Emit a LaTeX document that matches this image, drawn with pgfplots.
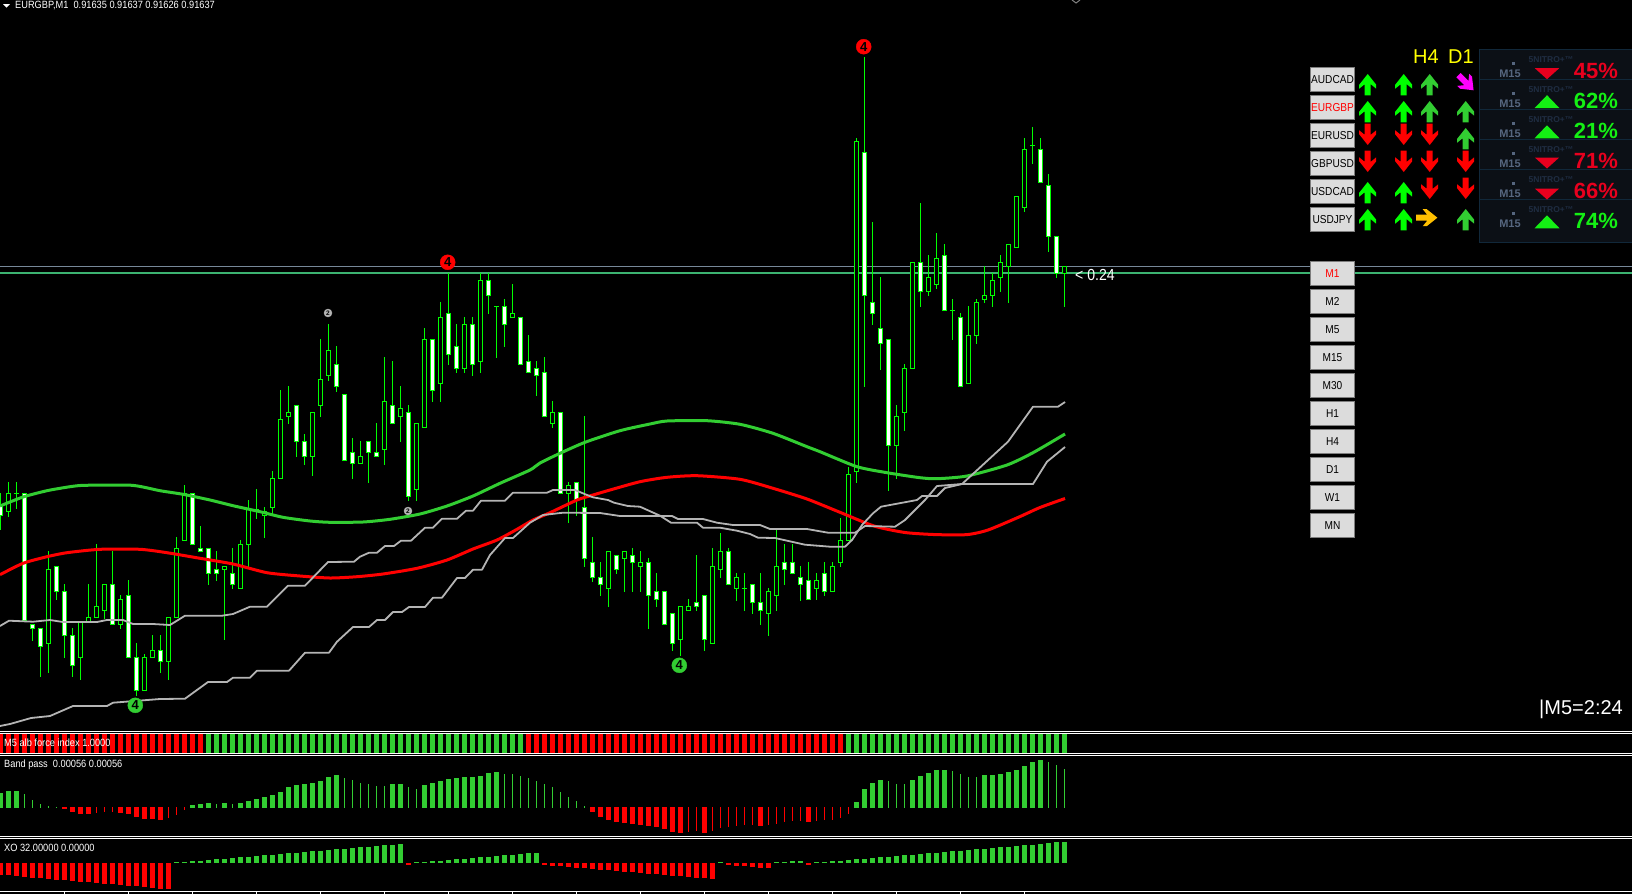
\documentclass[border=0pt]{standalone}
\usepackage{fontspec}
\setmainfont{Liberation Sans}
\newfontfamily\mt[FakeStretch=0.88]{Liberation Sans}
\usepackage{pgfplots}
\usepackage{pgfplotstable}
\pgfplotsset{compat=1.18}
\newcommand\fs[1]{\fontsize{#1}{#1}\selectfont}

\definecolor{candle}{HTML}{00FF00}
\definecolor{ma}{HTML}{32CD32}
\definecolor{band}{HTML}{B4B4B4}
\definecolor{hgreen}{HTML}{3CB371}
\definecolor{hgrey}{HTML}{778899}
\definecolor{btn}{HTML}{DCDCDC}
\definecolor{btnb}{HTML}{7E7E7E}
\definecolor{panel}{HTML}{0C1016}
\definecolor{panelb}{HTML}{11283A}
\definecolor{nitro}{HTML}{1F2D42}
\definecolor{mlabel}{HTML}{56667F}
\definecolor{pctred}{HTML}{E8001E}
\definecolor{pctgreen}{HTML}{14F014}
\definecolor{gold}{HTML}{FFC000}
\definecolor{mag}{HTML}{FF00FF}
\definecolor{yel}{HTML}{FFFF00}

% arrows of the dashboard
\pgfdeclareplotmark{upa}{%
  \pgfpathmoveto{\pgfpoint{0pt}{10.7pt}}
  \pgfpathlineto{\pgfpoint{8.5pt}{0pt}}
  \pgfpathlineto{\pgfpoint{8.5pt}{-4pt}}
  \pgfpathlineto{\pgfpoint{3pt}{0.5pt}}
  \pgfpathlineto{\pgfpoint{3pt}{-10.7pt}}
  \pgfpathlineto{\pgfpoint{-3pt}{-10.7pt}}
  \pgfpathlineto{\pgfpoint{-3pt}{0.5pt}}
  \pgfpathlineto{\pgfpoint{-8.5pt}{-4pt}}
  \pgfpathlineto{\pgfpoint{-8.5pt}{0pt}}
  \pgfpathclose\pgfusepathqfill}
\pgfdeclareplotmark{downa}{\pgftransformrotate{180}\pgfuseplotmark{upa}}
\pgfdeclareplotmark{righta}{\pgftransformrotate{-90}\pgfuseplotmark{upa}}
\pgfdeclareplotmark{sea}{\pgftransformrotate{-135}\pgfuseplotmark{upa}}
\pgfdeclareplotmark{tridown}{%
  \pgfpathmoveto{\pgfpoint{-12.2pt}{5.5pt}}
  \pgfpathlineto{\pgfpoint{12.2pt}{5.5pt}}
  \pgfpathlineto{\pgfpoint{0pt}{-5.5pt}}
  \pgfpathclose\pgfusepathqfill}
\pgfdeclareplotmark{triup}{%
  \pgfpathmoveto{\pgfpoint{-12.5pt}{-6.5pt}}
  \pgfpathlineto{\pgfpoint{12.5pt}{-6.5pt}}
  \pgfpathlineto{\pgfpoint{0pt}{6.5pt}}
  \pgfpathclose\pgfusepathqfill}

% candles: k, body top, body bottom, high, low (pixel rows of the chart)
\pgfplotstableread{
k t b h l
0 505 515 493 529
3 493 620 493 620
4 624 628 624 640
5 628 646 628 676
7 566 591 566 599
8 591 635 584 657
9 635 665 628 676
14 584 624 551 624
16 595 657 580 657
17 657 690 643 695
20 650 661 635 672
24 493 544 493 544
25 548 551 526 551
26 548 573 548 584
27 569 573 551 580
29 573 584 548 588
37 405 441 405 456
38 441 456 434 464
42 364 386 346 391
43 394 460 394 460
44 452 463 438 478
46 441 452 441 482
47 452 456 423 456
49 405 423 361 423
51 412 496 405 500
54 339 390 339 401
56 313 354 273 364
57 346 368 324 372
59 324 364 317 375
61 280 295 273 313
63 306 324 299 346
65 317 364 317 364
66 361 372 335 372
67 368 375 361 395
68 372 416 357 416
70 412 493 412 493
72 482 500 482 515
73 507 558 416 566
74 562 577 537 581
75 577 584 562 595
77 555 569 555 573
79 555 562 548 591
81 562 595 558 628
82 591 599 573 606
83 591 624 591 624
84 613 643 613 650
87 602 606 555 610
88 595 639 595 650
91 551 584 548 584
94 584 602 584 613
95 602 610 573 624
98 562 569 544 584
99 562 573 544 573
100 577 584 566 600
101 580 599 562 599
103 573 591 562 595
108 152 295 57 386
109 302 313 222 324
110 328 343 277 369
111 339 445 339 490
115 262 291 203 306
118 255 310 244 310
120 317 386 313 386
130 149 182 138 182
131 185 236 174 251
132 236 273 236 277
}\bearcandles
\pgfplotstableread{
k t b h l
1 493 511 482 516
6 569 643 551 672
10 621 657 621 679
11 617 621 584 621
12 606 617 544 617
13 584 610 584 618
15 599 624 595 628
18 657 690 654 690
19 650 657 635 657
21 617 661 617 679
22 548 617 537 617
23 493 540 485 540
28 566 569 566 639
30 544 588 540 588
31 508 544 500 566
33 511 515 507 537
34 478 507 471 514
35 419 478 390 478
36 412 416 386 423
39 412 456 412 475
40 379 405 339 416
41 350 375 324 380
45 456 463 441 463
48 401 449 357 464
50 408 416 386 441
52 423 489 423 500
53 339 427 328 427
55 317 383 302 401
58 324 368 317 372
60 280 361 273 372
64 313 317 284 317
69 412 423 401 427
71 485 493 482 522
76 551 588 551 606
78 551 558 551 591
80 562 566 551 591
85 606 639 606 655
86 606 610 599 610
89 566 643 548 643
90 551 569 533 577
92 577 588 573 600
96 591 613 588 635
97 566 595 530 610
102 580 588 573 599
104 566 591 562 591
105 540 562 518 566
106 474 540 467 540
107 141 471 138 482
112 416 445 405 478
113 368 412 364 430
114 262 368 262 368
116 277 291 255 295
117 258 284 233 288
121 335 383 306 383
122 302 335 299 343
123 295 299 266 302
124 280 295 273 306
125 262 277 255 291
126 244 266 244 302
127 196 247 196 247
128 149 207 138 211
133 266 273 266 306
}\bullcandles
\pgfplotstableread{
k t b h l
2 493 493 482 508
32 509 509 489 518
62 306 306 306 357
93 588 588 573 610
119 310 310 299 339
129 145 145 127 163
}\dojicandles

% force index: k, top row
\pgfplotstableread[row sep=\\]{k v\\0 734\\1 734\\2 734\\3 734\\4 734\\5 734\\6 734\\7 734\\8 734\\9 734\\10 734\\11 734\\12 734\\13 734\\14 734\\15 734\\16 734\\17 734\\18 734\\19 734\\20 734\\21 734\\22 734\\23 734\\24 734\\25 734\\66 734\\67 734\\68 734\\69 734\\70 734\\71 734\\72 734\\73 734\\74 734\\75 734\\76 734\\77 734\\78 734\\79 734\\80 734\\81 734\\82 734\\83 734\\84 734\\85 734\\86 734\\87 734\\88 734\\89 734\\90 734\\91 734\\92 734\\93 734\\94 734\\95 734\\96 734\\97 734\\98 734\\99 734\\100 734\\101 734\\102 734\\103 734\\104 734\\105 734\\}\forcered
\pgfplotstableread[row sep=\\]{k v\\26 734\\27 734\\28 734\\29 734\\30 734\\31 734\\32 734\\33 734\\34 734\\35 734\\36 734\\37 734\\38 734\\39 734\\40 734\\41 734\\42 734\\43 734\\44 734\\45 734\\46 734\\47 734\\48 734\\49 734\\50 734\\51 734\\52 734\\53 734\\54 734\\55 734\\56 734\\57 734\\58 734\\59 734\\60 734\\61 734\\62 734\\63 734\\64 734\\65 734\\106 734\\107 734\\108 734\\109 734\\110 734\\111 734\\112 734\\113 734\\114 734\\115 734\\116 734\\117 734\\118 734\\119 734\\120 734\\121 734\\122 734\\123 734\\124 734\\125 734\\126 734\\127 734\\128 734\\129 734\\130 734\\131 734\\132 734\\133 734\\}\forcegreen

% band pass: k, end of the bar (row in the crop, 3 to the pixel)
\pgfplotstableread{
k z
0 205
1 198
2 198
24 240
25 237
26 234
28 234
30 234
31 228
32 222
33 216
34 210
35 201
36 186
37 180
38 177
39 174
40 168
41 156
42 150
49 177
50 177
53 180
54 174
55 168
56 162
57 159
58 156
59 156
60 153
61 144
62 141
107 231
108 192
109 174
110 165
114 165
115 153
116 144
117 135
118 135
123 150
124 150
125 147
126 141
127 135
128 123
129 111
130 105
}\bpwidegreen
\pgfplotstableread{
k z
3 207
4 225
5 237
6 243
7 245
27 237
29 237
43 159
44 165
45 174
46 177
47 183
48 183
51 186
52 192
63 147
64 147
65 153
66 159
67 168
68 177
69 186
70 201
71 216
72 228
73 243
111 168
112 177
113 177
119 138
120 147
121 156
122 156
131 111
132 120
133 132
}\bpthingreen
\pgfplotstableread{
k z
8 252
9 261
10 268
11 268
15 264
16 268
17 276
18 282
19 282
20 286
74 261
75 276
76 285
77 291
78 294
79 297
80 300
81 303
82 306
83 312
84 321
85 324
88 324
95 303
101 291
}\bpwidered
\pgfplotstableread{
k z
12 264
13 262
14 262
21 279
22 270
23 255
86 321
87 318
89 318
90 309
91 306
92 303
93 300
94 300
96 300
97 297
98 291
99 288
100 288
102 288
103 285
104 285
105 279
106 267
}\bpthinred

% XO
\pgfplotstableread{
k z
0 450
1 451
2 453
3 456
4 459
5 459
6 462
7 465
8 465
9 468
10 471
11 471
12 474
13 477
14 477
15 480
16 483
17 483
18 486
19 489
20 492
21 492
51 420
68 420
69 423
70 423
71 426
72 429
73 429
74 432
75 435
76 435
77 438
78 441
79 441
80 444
81 447
82 447
83 450
84 453
85 453
86 456
87 459
88 459
89 462
91 420
92 423
93 423
94 426
95 429
96 429
101 420
}\xored
\pgfplotstableread{
k z
22 411
23 411
24 408
25 408
26 405
27 402
28 402
29 399
30 396
31 396
32 393
33 390
34 390
35 387
36 384
37 384
38 381
39 378
40 378
41 375
42 372
43 372
44 369
45 366
46 366
47 363
48 360
49 360
50 357
52 411
53 411
54 408
55 408
56 405
57 402
58 402
59 399
60 396
61 396
62 393
63 390
64 390
65 387
66 384
67 384
90 411
97 411
98 411
99 408
100 408
102 411
103 411
104 408
105 408
106 405
107 402
108 402
109 399
110 396
111 396
112 393
113 390
114 390
115 387
116 384
117 384
118 381
119 378
120 378
121 375
122 372
123 372
124 369
125 366
126 366
127 363
128 360
129 360
130 357
131 354
132 351
133 351
}\xogreen

\pgfplotsset{
  bar/.style n args={2}{draw=none, no markers, forget plot, error bars/.cd, y dir=both, y explicit,
    error mark=none, error bar style={draw=#1, solid, line width=#2}},
}
\newcommand\candleset[1]{%
  \addplot[bar={candle}{1pt}] table[x expr=8*\thisrow{k}+0.5, y=h,
    y error plus expr=\thisrow{l}-\thisrow{h}+1, y error minus expr=0] {#1};
  \addplot[bar={candle}{5pt}] table[x expr=8*\thisrow{k}+0.5, y=t,
    y error plus expr=\thisrow{b}-\thisrow{t}+1, y error minus expr=0] {#1};
}
\newcommand\inner[2]{%
  \addplot[bar={#2}{3pt}] table[x expr=8*\thisrow{k}+0.5, y expr=\thisrow{t}+1,
    y error plus expr=\thisrow{b}-\thisrow{t}-1, y error minus expr=0] {#1};
}
% bar from a crop row z down or up to a base row
\newcommand\histup[4]{%
  \addplot[bar={#2}{#3}] table[x expr=8*\thisrow{k}+0.5, y expr=round(725+\thisrow{z}/3),
    y error plus expr=#4-round(725+\thisrow{z}/3), y error minus expr=0] {#1};
}
\newcommand\histdown[4]{%
  \addplot[bar={#2}{#3}] table[x expr=8*\thisrow{k}+0.5, y expr=#4,
    y error plus expr=round(725+\thisrow{z}/3)-#4, y error minus expr=0] {#1};
}
\newcommand\btn[3]{\node[draw=btnb, line width=1pt, fill=btn, minimum width=44.5pt, minimum height=24.5pt,
  inner sep=0pt, text=#3, font=\mt\fs{11.5}] at (axis cs:1332.5,#1) {#2};}

\begin{document}
\begin{tikzpicture}
\begin{axis}[
  scale only axis, width=1632pt, height=894pt,
  xmin=0, xmax=1632, ymin=0, ymax=894, y dir=reverse,
  axis line style={draw=none}, ticks=none,
  axis background/.style={fill=black},
  clip=true,
]
% horizontal levels
\addplot[hgrey, line width=1pt, forget plot] coordinates {(0,266.5) (1632,266.5)};
\addplot[hgreen, line width=2pt, forget plot] coordinates {(0,273) (1632,273)};

\candleset{\bearcandles}
\candleset{\bullcandles}
\candleset{\dojicandles}
\inner{\bearcandles}{white}
\inner{\bullcandles}{black}

% moving averages and bands
\addplot[ma, line width=3pt, line join=round, smooth, tension=0.4] coordinates {(0,506)(23,497)(47,490.7)(70,486.7)(85,485.3)(132,485.3)(160,490.7)(183,494.3)(210,500)(233,505.7)(260,511.7)(283,517.3)(310,521)(330,522.3)(363,522)(390,519.3)(420,514)(447,506)(473,496)(500,483.3)(530,470)(540,463)(560,453.3)(585,442.3)(620,430.7)(650,424)(667,421)(707,420.7)(740,424.3)(773,433.3)(807,446.7)(820,451.7)(857,466.7)(887,472.7)(920,477.7)(937,478.7)(967,476)(1007,465)(1033,452.7)(1065,434)};
\addplot[red, line width=3pt, line join=round, smooth, tension=0.4] coordinates {(0,574.7)(23,563.3)(47,556.7)(67,552.7)(100,549.3)(140,549.3)(167,552.7)(200,558.3)(233,564)(267,572.7)(300,576)(330,578)(357,576.7)(383,574)(417,568.3)(447,560)(473,549)(497,540)(517,529.3)(533,520)(550,512.7)(577,500)(593,495)(610,490)(640,481.7)(667,477.3)(697,475.7)(740,479.3)(773,488.3)(807,499)(840,512.3)(874,526)(905,532.5)(936,534.6)(967,534.6)(988,530)(1019,517)(1040,507.5)(1065,498.5)};
\addplot[band, line width=1.8pt, line join=round] coordinates {(0,626)(9,620.7)(33,621.7)(50,620)(63,622)(97,622)(107,620)(123,620)(133,624)(153,624)(170,625)(185,615.7)(222,615.7)(233,614)(250,606.7)(267,606.7)(288,585.7)(305,585.7)(328,562)(354,561.7)(360,556.7)(369,552.7)(377,552.7)(385,546)(394,546)(401,540.7)(411,540.7)(425,527.7)(433,527.7)(442,518.7)(457,518.7)(466,510.7)(473,510.7)(481,500.7)(505,500.7)(513,492.7)(547,492.7)(553,490)(575,490)(587,495)(593,497.3)(608,500)(614,502.7)(628,506)(640,506.7)(660,515.7)(671,522.7)(697,522.7)(703,527.7)(720,527.7)(737,530.7)(750,534)(758,537.7)(775,538)(805,544.7)(830,546.7)(845,546.7)(852,540)(862,525)(873,513.3)(881,506.7)(890,505)(917,500)(922,496)(937,496)(945,488)(962,484)(1008,441.7)(1033,406.7)(1058,406.7)(1065,402)};
\addplot[band, line width=1.8pt, line join=round] coordinates {(0,726)(10,724)(31,718)(50,716)(73,706)(107,706)(113,702.7)(160,699)(185,698.7)(208,682)(227,682)(233,677.7)(250,677.7)(257,670.7)(289,670.7)(305,652.7)(329,652.7)(337,641.7)(353,627)(369,627)(377,620)(385,620)(393,612)(402,612)(409,607)(425,607)(433,597.7)(442,597.7)(457,578)(465,578)(473,569.7)(482,569.7)(490,555)(505,538)(513,538)(530,522.7)(543,515)(563,512.7)(600,513)(620,516)(672,516)(678,519)(703,519)(717,522.7)(733,525)(760,525)(770,529)(807,529)(828,532.7)(855,532.7)(865,526)(895,526.7)(905,520)(925,500)(937,486)(962,484)(1033,484)(1047,461.7)(1065,447)};

% signal circles
\addplot[only marks, mark=*, mark size=7.5pt, color=red, mark options={draw=none},
  nodes near coords={4}, every node near coord/.style={anchor=center, text=black, font=\fs{13}\bfseries}]
  coordinates {(863.7,46.7) (447.7,262.3)};
\addplot[only marks, mark=*, mark size=7.5pt, color=ma, mark options={draw=none},
  nodes near coords={4}, every node near coord/.style={anchor=center, text=black, font=\fs{13}\bfseries}]
  coordinates {(135.3,705.3) (679.3,665.3)};
\addplot[only marks, mark=*, mark size=4pt, color=band, mark options={draw=none},
  nodes near coords={2}, every node near coord/.style={anchor=center, text=black, font=\fs{6.5}\bfseries}]
  coordinates {(328,313) (408,511)};

% force index
\addplot[bar={red}{5pt}] table[x expr=8*\thisrow{k}+0.5, y=v, y error plus expr=19, y error minus expr=0] {\forcered};
\addplot[bar={ma}{5pt}] table[x expr=8*\thisrow{k}+0.5, y=v, y error plus expr=19, y error minus expr=0] {\forcegreen};
% band pass
\histup{\bpwidegreen}{ma}{5pt}{808}
\histup{\bpthingreen}{ma}{1pt}{808}
\histdown{\bpwidered}{red}{5pt}{807}
\histdown{\bpthinred}{red}{1pt}{807}
% XO
\histup{\xogreen}{ma}{5pt}{863}
\histdown{\xored}{red}{5pt}{863}

% panel rules
\pgfplotsinvokeforeach{731.5,733.5,753.5,755.5,836.5,838.5,891.5}{
  \draw[white, line width=1pt] (axis cs:0,#1) -- (axis cs:1632,#1);
}
\pgfplotsinvokeforeach{64.5,128.5,192.5,256.5,320.5,384.5,448.5,512.5,576.5,640.5,704.5,768.5,832.5,896.5,960.5,1024.5}{
  \draw[white, line width=1pt] (axis cs:#1,892) -- (axis cs:#1,894);
}

% header
\fill[white] (axis cs:3,4) -- (axis cs:10,4) -- (axis cs:6.5,7.5) -- cycle;
\node[anchor=west, inner sep=0pt, text=white, font=\mt\fs{10.5}] at (axis cs:15,5.5) {EURGBP,M1\ \ 0.91635 0.91637 0.91626 0.91637};
\draw[gray, line width=1pt] (axis cs:1072,0) -- (axis cs:1076,3) -- (axis cs:1080,0);
\node[anchor=west, inner sep=0pt, text=white, font=\mt\fs{10.5}] at (axis cs:4,742.7) {M5 alb force index 1.0000};
\node[anchor=west, inner sep=0pt, text=white, font=\mt\fs{10.5}] at (axis cs:4,764.7) {Band pass\ \ 0.00056 0.00056};
\node[anchor=west, inner sep=0pt, text=white, font=\mt\fs{10.5}] at (axis cs:4,847.7) {XO 32.00000 0.00000};
\node[anchor=west, inner sep=0pt, text=white, font=\mt\fs{16}] at (axis cs:1075,275) {< 0.24};
\node[anchor=east, inner sep=0pt, text=white, font=\fs{20}] at (axis cs:1623,709.3) {|M5=2:24};
\node[anchor=west, inner sep=0pt, text=yel, font=\fs{20}] at (axis cs:1413,56.3) {H4};
\node[anchor=west, inner sep=0pt, text=yel, font=\fs{20}] at (axis cs:1448,56.3) {D1};

% symbol buttons
\btn{79.5}{AUDCAD}{black}
\btn{107.5}{EURGBP}{red}
\btn{135.5}{EURUSD}{black}
\btn{163.5}{GBPUSD}{black}
\btn{191.5}{USDCAD}{black}
\btn{219.5}{USDJPY}{black}
% timeframe buttons
\btn{273.5}{M1}{red}
\btn{301.5}{M2}{black}
\btn{329.5}{M5}{black}
\btn{357.5}{M15}{black}
\btn{385.5}{M30}{black}
\btn{413.5}{H1}{black}
\btn{441.5}{H4}{black}
\btn{469.5}{D1}{black}
\btn{497.5}{W1}{black}
\btn{525.5}{MN}{black}

% trend arrows
\addplot[only marks, mark=upa, color=candle] coordinates {(1367.7,84.7)(1403.7,84.7)(1367.7,111.7)(1403.7,111.7)(1367.7,192.7)(1403.7,192.7)(1367.7,219.7)(1403.7,219.7)};
\addplot[only marks, mark=upa, color=ma] coordinates {(1429.7,84.7)(1429.7,111.7)(1465.7,111.7)(1465.7,138.7)(1465.7,219.7)};
\addplot[only marks, mark=downa, color=red] coordinates {(1367.7,134.3)(1403.7,134.3)(1429.7,134.3)(1367.7,161.3)(1403.7,161.3)(1429.7,161.3)(1465.7,161.3)(1429.7,188.3)(1465.7,188.3)};
\addplot[only marks, mark=righta, color=gold] coordinates {(1426.7,217.7)};
\addplot[only marks, mark=sea, color=mag] coordinates {(1466,82.7)};

% strength panel
\fill[panel] (axis cs:1479,49.5) rectangle (axis cs:1632,242.5);
\pgfplotsinvokeforeach{49.5,79.5,109.5,139.5,169.5,199.5}{
  \draw[panelb, line width=1pt] (axis cs:1479,#1) -- (axis cs:1632,#1);
}
\draw[panelb, line width=1pt] (axis cs:1479,49.5) -- (axis cs:1479,242.5) -- (axis cs:1632,242.5);
\pgfplotsinvokeforeach{0,1,2,3,4,5}{
  \node[inner sep=0pt, text=mlabel, font=\fs{11}\bfseries] at (axis cs:1510,{73.3+30*#1}) {M15};
  \fill[mlabel] (axis cs:1512,{62+30*#1}) rectangle (axis cs:1515,{65+30*#1});
  \node[inner sep=0pt, text=nitro, font=\fs{8.5}\bfseries] at (axis cs:1551,{59.7+30*#1}) {5NITRO+™};
}
\addplot[only marks, mark=tridown, color=pctred] coordinates {(1547,73.7)(1547,163)(1547,194)};
\addplot[only marks, mark=triup, color=pctgreen] coordinates {(1547,101.7)(1547,131.8)(1547,221.8)};
\node[anchor=east, inner sep=0pt, text=pctred, font=\fs{22}\bfseries] at (axis cs:1618,70.7) {45\%};
\node[anchor=east, inner sep=0pt, text=pctgreen, font=\fs{22}\bfseries] at (axis cs:1618,100.7) {62\%};
\node[anchor=east, inner sep=0pt, text=pctgreen, font=\fs{22}\bfseries] at (axis cs:1618,130.7) {21\%};
\node[anchor=east, inner sep=0pt, text=pctred, font=\fs{22}\bfseries] at (axis cs:1618,160.7) {71\%};
\node[anchor=east, inner sep=0pt, text=pctred, font=\fs{22}\bfseries] at (axis cs:1618,190.7) {66\%};
\node[anchor=east, inner sep=0pt, text=pctgreen, font=\fs{22}\bfseries] at (axis cs:1618,220.7) {74\%};
\end{axis}
\pgfresetboundingbox
\path[use as bounding box] (0,0) rectangle (1632pt,894pt);
\end{tikzpicture}
\end{document}
